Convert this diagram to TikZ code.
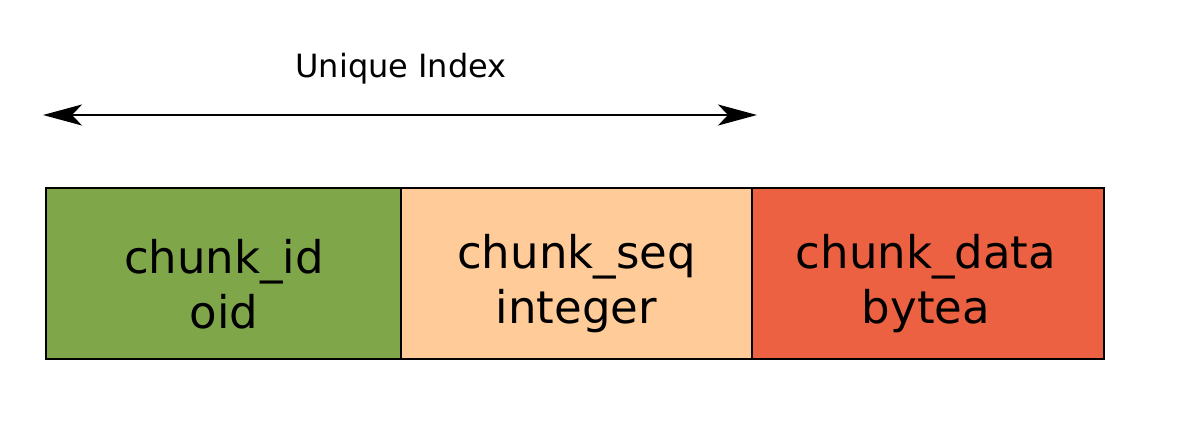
\documentclass[tikz,border=0pt]{standalone}
\usepackage{fontspec}
\setmainfont{DejaVu Sans}
\usetikzlibrary{arrows.meta}
\definecolor{cgreen}{RGB}{128,166,74}
\definecolor{cpeach}{RGB}{255,203,153}
\definecolor{cred}{RGB}{235,97,65}
\begin{document}
\begin{tikzpicture}[x=1pt,y=1pt,
  field/.style={draw=black,line width=2pt},
  fieldtext/.style={align=center,font=\fontsize{45}{55}\selectfont,inner sep=0pt},
  idxarrow/.style={line width=2pt,{Stealth[length=39pt,width=21pt,inset=10pt]}-{Stealth[length=39pt,width=21pt,inset=10pt]}}]
\useasboundingbox (0,0) rectangle (1200,432);
\fill[white] (0,0) rectangle (1200,432);
\filldraw[field,fill=cgreen] (46,73) rectangle (401,244);
\filldraw[field,fill=cpeach] (401,73) rectangle (752,244);
\filldraw[field,fill=cred] (752,73) rectangle (1104,244);
\node[fieldtext] (id) at (224,148) {chunk\_id\\oid};
\node[fieldtext] (seq) at (576.5,148) {chunk\_seq\\integer};
\node[fieldtext] (data) at (926,148) {chunk\_data\\bytea};
\coordinate (a) at (43,317);
\coordinate (b) at (757,317);
\draw[idxarrow] (a) -- (b);
\node[font=\fontsize{32}{38}\selectfont,anchor=base] (lbl) at (401,354) {Unique Index};
\end{tikzpicture}
\end{document}
